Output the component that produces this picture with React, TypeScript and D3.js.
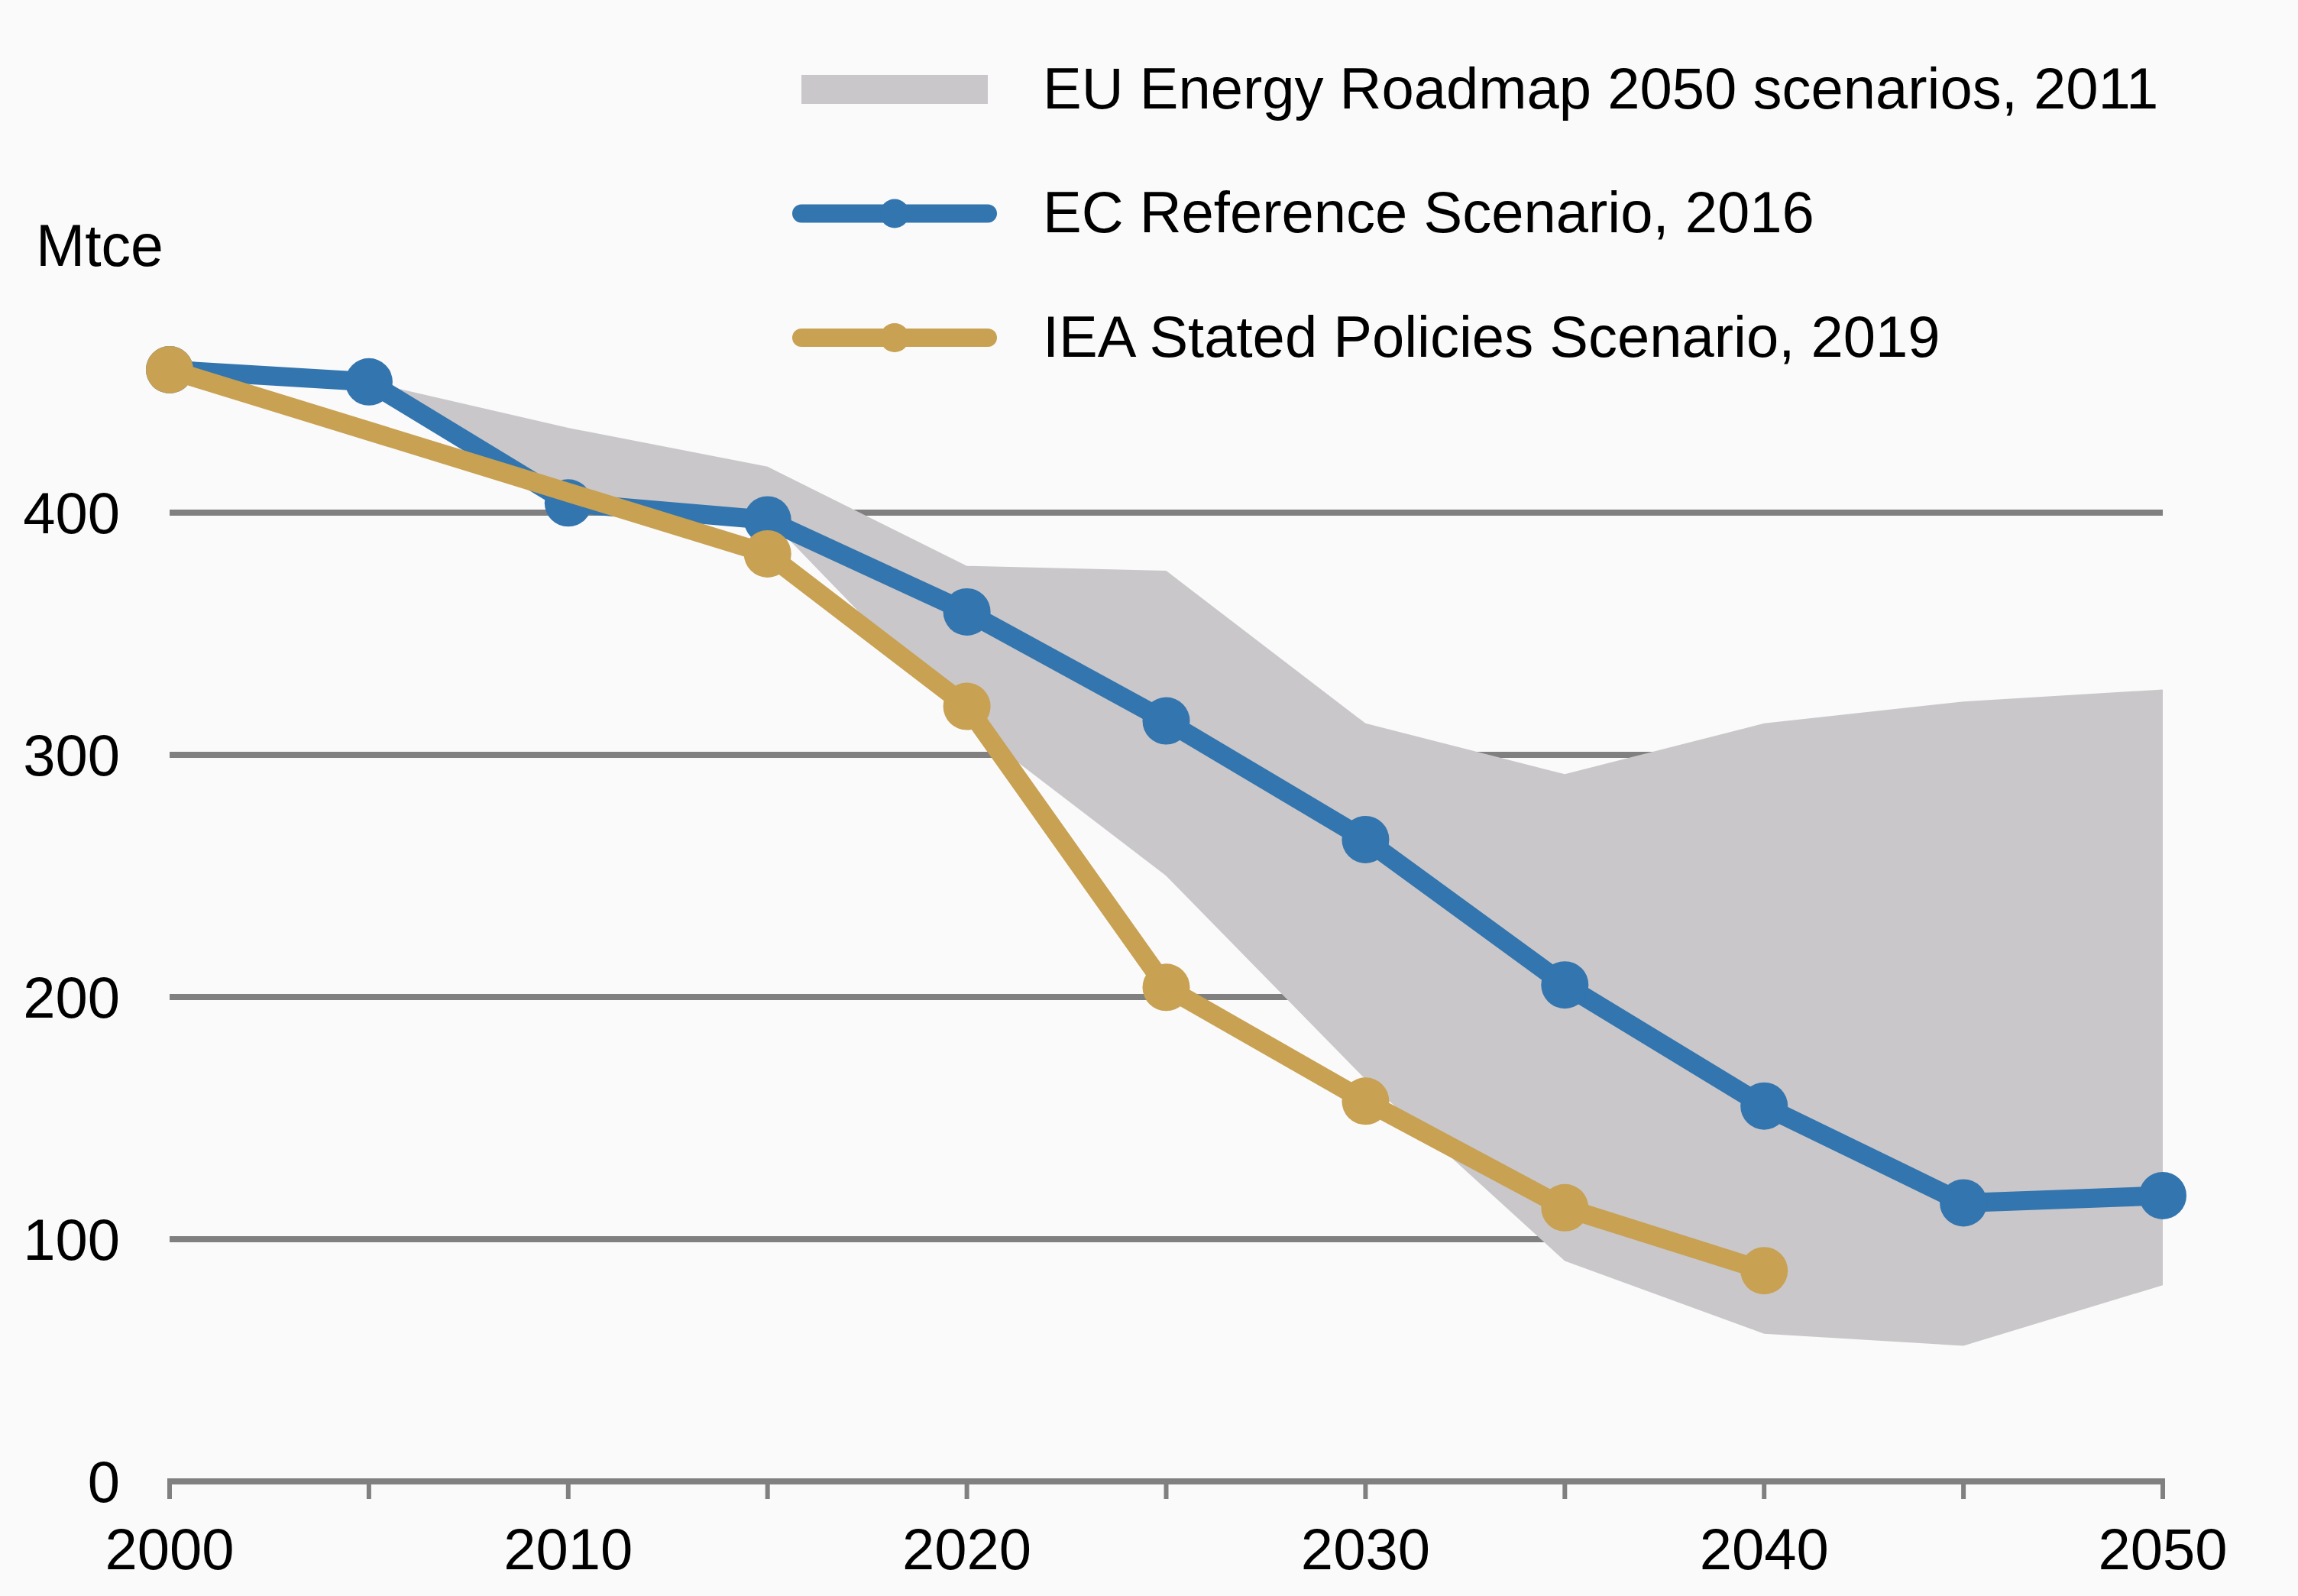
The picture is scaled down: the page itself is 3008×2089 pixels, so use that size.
import * as d3 from "d3"

const years = [2000, 2005, 2010, 2015, 2020, 2025, 2030, 2035, 2040, 2045, 2050]
const ecReference = [459, 454, 404, 397, 359, 314, 265, 205, 155, 115, 118]

const ieaYears = [2000, 2015, 2020, 2025, 2030, 2035, 2040]
const ieaStated = [459, 383, 320, 204, 157, 113, 87]

const bandYears = [2005, 2010, 2015, 2020, 2025, 2030, 2035, 2040, 2045, 2050]
const roadmapHigh = [454, 435, 419, 378, 376, 313, 292, 313, 322, 327]
const roadmapLow = [454, 405, 398, 313, 250, 166, 91, 61, 56, 81]

const yTicks = [0, 100, 200, 300, 400]
const xLabels = [2000, 2010, 2020, 2030, 2040, 2050]

const legendItems = [
  { label: "EU Energy Roadmap 2050 scenarios, 2011", kind: "band" },
  { label: "EC Reference Scenario, 2016", kind: "ec" },
  { label: "IEA Stated Policies Scenario, 2019", kind: "iea" },
]

const W = 3008
const H = 2089
const BLUE = "#3375ae"
const GOLD = "#c8a152"
const BAND = "#c9c7ca"
const GRID = "#808080"
const FONT = "'Liberation Sans', Arial, sans-serif"

export default function App() {
  const x = d3.scaleLinear().domain([2000, 2050]).range([222, 2831])
  const y = d3.scaleLinear().domain([0, 400]).range([1939, 671])

  const area = d3
    .area<number>()
    .x((_, i) => x(bandYears[i]))
    .y0((_, i) => y(roadmapLow[i]))
    .y1((d) => y(d))

  const ecLine = d3
    .line<number>()
    .x((_, i) => x(years[i]))
    .y((d) => y(d))

  const ieaLine = d3
    .line<number>()
    .x((_, i) => x(ieaYears[i]))
    .y((d) => y(d))

  const minorTicks = d3.range(2000, 2051, 5)

  return (
    <svg
      width={W}
      height={H}
      style={{ position: "absolute", left: 0, top: 0, background: "#fafafa" }}
      fontFamily={FONT}
    >
      <rect width={W} height={H} fill="#fafafa" />

      {/* grid */}
      {yTicks
        .filter((t) => t > 0)
        .map((t) => (
          <line key={t} x1={x(2000)} x2={x(2050)} y1={y(t)} y2={y(t)} stroke={GRID} strokeWidth={8} />
        ))}

      {/* roadmap band */}
      <path d={area(roadmapHigh) || ""} fill={BAND} />

      {/* x axis */}
      <line x1={x(2000) - 3} x2={x(2050) + 3} y1={y(0)} y2={y(0)} stroke={GRID} strokeWidth={8} />
      {minorTicks.map((t) => (
        <line key={t} x1={x(t)} x2={x(t)} y1={y(0)} y2={y(0) + 23} stroke={GRID} strokeWidth={6} />
      ))}
      {xLabels.map((t) => (
        <text key={t} x={x(t)} y={2054} textAnchor="middle" fontSize={76} fill="#000">
          {t}
        </text>
      ))}

      {/* y labels */}
      {yTicks.map((t) => (
        <text key={t} x={157} y={y(t) + 27} textAnchor="end" fontSize={76} fill="#000">
          {t}
        </text>
      ))}
      <text x={47} y={348} fontSize={77} fill="#000">
        Mtce
      </text>

      {/* EC reference */}
      <path d={ecLine(ecReference) || ""} fill="none" stroke={BLUE} strokeWidth={25} strokeLinejoin="round" />
      {ecReference.map((d, i) => (
        <circle key={i} cx={x(years[i])} cy={y(d)} r={31} fill={BLUE} />
      ))}

      {/* IEA stated policies */}
      <path d={ieaLine(ieaStated) || ""} fill="none" stroke={GOLD} strokeWidth={25} strokeLinejoin="round" />
      {ieaStated.map((d, i) => (
        <circle key={i} cx={x(ieaYears[i])} cy={y(d)} r={31} fill={GOLD} />
      ))}

      {/* legend */}
      {legendItems.map((item, i) => {
        const cy = 117 + i * 162.5
        const c = item.kind === "ec" ? BLUE : GOLD
        return (
          <g key={item.label}>
            {item.kind === "band" ? (
              <rect x={1049} y={cy - 19} width={244} height={38} fill={BAND} />
            ) : (
              <g>
                <line x1={1049} x2={1293} y1={cy} y2={cy} stroke={c} strokeWidth={24} strokeLinecap="round" />
                <circle cx={1171} cy={cy} r={19} fill={c} />
              </g>
            )}
            <text x={1365} y={cy + 24.5} fontSize={76} fill="#000">
              {item.label}
            </text>
          </g>
        )
      })}
    </svg>
  )
}
